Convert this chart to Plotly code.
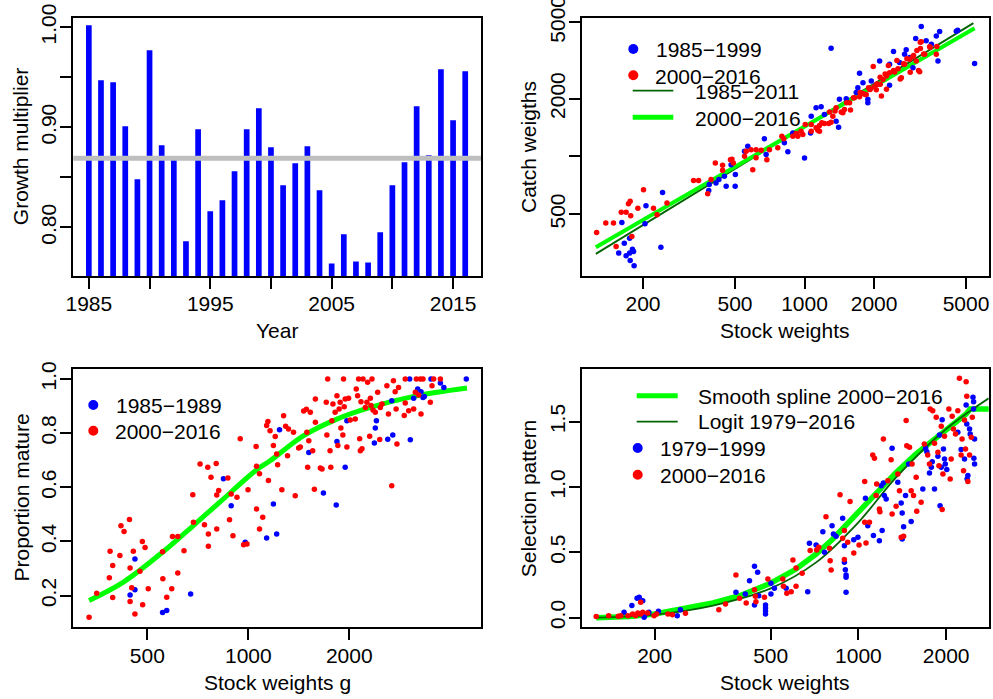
import plotly.graph_objects as go

W, H = 993, 699
FONT = "Liberation Sans, Arial, Helvetica, sans-serif"
FS = 21
BLUE, RED = "#0000ff", "#ff0000"
LIME, DKGREEN = "#00ff00", "#006400"

# ---------------- Panel 1: growth multiplier ----------------
years = list(range(1985, 2017))
growth = [1.002, 0.947, 0.945, 0.901, 0.848, 0.977, 0.882, 0.868, 0.786, 0.898,
          0.816, 0.827, 0.856, 0.898, 0.919, 0.880, 0.842, 0.864, 0.881, 0.837,
          0.764, 0.793, 0.766, 0.765, 0.795, 0.842, 0.865, 0.921, 0.872, 0.958,
          0.907, 0.956]
growth_mean = 0.869

# ---------------- Panel 2: catch vs stock weights ----------------
p2_blue = [(1303, 3672), (5445, 3050), (3200, 4766), (3027, 4122), (3361, 4009), (3540, 3853),
           (3718, 4254), (3843, 4487), (4537, 4502), (4600, 4560), (3780, 3148), (2427, 3525),
           (2710, 3414), (2754, 3598), (2113, 3148), (2333, 3027), (2578, 3090), (2849, 3283),
           (2946, 2904), (2333, 2350), (1730, 2718), (1701, 2285), (1790, 2424), (1945, 2477),
           (1674, 2153), (1879, 1985), (1879, 1906), (1515, 2000), (1416, 1985), (1122, 1794),
           (1180, 1815), (1069, 1623), (1219, 1656), (1370, 1527), (1404, 1422), (1062, 1327),
           (1000, 982), (890, 1327), (818, 1177), (847, 1057), (670, 1236), (682, 1024),
           (568, 1130), (550, 1065), (481, 906), (502, 804), (501, 698), (458, 698), (414, 727),
           (426, 757), (450, 787), (387, 713), (385, 665), (243, 649), (206, 553), (204, 445),
           (162, 452), (239, 336), (166, 352), (175, 374), (157, 313), (169, 303), (175, 313),
           (180, 328), (182, 319), (176, 286), (183, 269)]
p2_red = [(126, 401), (138, 449), (149, 449), (153, 339), (161, 511), (169, 511), (173, 567),
          (176, 583), (177, 490), (179, 382), (190, 537), (201, 670), (222, 536), (230, 496),
          (254, 571), (331, 748), (348, 748), (381, 638), (394, 757), (411, 925), (442, 899),
          (442, 847), (478, 962), (485, 966), (492, 925), (550, 1003), (559, 1065), (587, 1085),
          (617, 1085), (649, 1077), (597, 853), (617, 984), (687, 962), (705, 1085), (766, 1109),
          (798, 1276), (813, 1236), (890, 1276), (920, 1318), (935, 1276), (966, 1355),
          (983, 1301), (1069, 1355), (1069, 1469), (1122, 1411), (1142, 1370), (1161, 1452),
          (1219, 1486), (1273, 1486), (1303, 1510), (1326, 1623), (1283, 1703), (1370, 1794),
          (1465, 1690), (1489, 1757), (1566, 1906), (1645, 2023), (1730, 2051), (1790, 2132),
          (1849, 2107), (1914, 2240), (2000, 2311), (2074, 2378), (1983, 2944), (2187, 2523),
          (2263, 2628), (2333, 2736), (2455, 2760), (2537, 2872), (2624, 2575), (2710, 3027),
          (2849, 3212), (2946, 3319), (3044, 3148), (3149, 2767), (3172, 3658), (3200, 3961),
          (3310, 3414), (3478, 3739), (3718, 3414), (2045, 2230), (2151, 2064), (2263, 2240),
          (1581, 1745), (1442, 1703), (1161, 1355), (1828, 2104), (1923, 2237), (2054, 2385),
          (2124, 2587), (2233, 2694), (2307, 2980), (2427, 2804), (2510, 3165), (2595, 2537),
          (2682, 3041), (2773, 3230), (2867, 2749), (2963, 3360), (3063, 3568), (3168, 3944),
          (3116, 2804), (3276, 3427), (3497, 3715), (3738, 3742), (1356, 1725), (1521, 1906),
          (1629, 2023), (1741, 2153), (1893, 2285), (2126, 2378), (1007, 1469), (1188, 1497),
          (927, 1301)]
fit_1985_2011_x = [125, 5380]
fit_1985_2011_y = [310, 4962]
fit_2000_2016_x = [125, 5445]
fit_2000_2016_y = [336, 4670]

# ---------------- Panel 3: proportion mature ----------------
p3_blue = [(444, 0.202), (459, 0.335), (459, 0.222), (555, 0.138), (571, 0.145), (673, 0.206),
           (843, 0.632), (889, 0.532), (979, 0.397), (1134, 0.413), (1188, 0.538), (1215, 0.428),
           (1239, 0.813), (1515, 0.729), (1675, 0.579), (1829, 0.535), (1838, 0.769), (1945, 0.674),
           (1968, 0.846), (2377, 0.764), (2392, 0.819), (2410, 0.846), (2605, 0.778), (2697, 0.793),
           (2678, 0.920), (3028, 1.0), (3042, 0.776), (3113, 0.929), (3200, 0.963), (3274, 0.953),
           (3319, 0.932), (3350, 0.935), (3506, 1.0), (3740, 0.985), (3830, 0.969), (4468, 1.0)]
p3_red = [(335, 0.120), (353, 0.209), (385, 0.266), (387, 0.364), (394, 0.193), (394, 0.311),
          (414, 0.348), (417, 0.458), (426, 0.437), (442, 0.481), (444, 0.302), (444, 0.178),
          (449, 0.229), (454, 0.364), (459, 0.132), (475, 0.290), (483, 0.400), (484, 0.166),
          (492, 0.378), (503, 0.225), (555, 0.362), (556, 0.262), (571, 0.194), (591, 0.225),
          (594, 0.418), (616, 0.418), (616, 0.284), (643, 0.366), (683, 0.573), (686, 0.471),
          (718, 0.686), (740, 0.462), (757, 0.674), (760, 0.428), (760, 0.382), (774, 0.637),
          (802, 0.688), (805, 0.572), (805, 0.446), (816, 0.588), (869, 0.634), (879, 0.480),
          (889, 0.575), (900, 0.421), (925, 0.563), (946, 0.779), (968, 0.388), (991, 0.391),
          (998, 0.591), (1055, 0.751), (1058, 0.520), (1058, 0.678), (1080, 0.650), (1080, 0.446),
          (1104, 0.489), (1134, 0.828), (1144, 0.843), (1148, 0.625), (1161, 0.809), (1188, 0.754),
          (1203, 0.788), (1215, 0.723), (1223, 0.683), (1259, 0.591), (1274, 0.864), (1292, 0.826),
          (1309, 0.717), (1318, 0.815), (1364, 0.803), (1380, 0.569), (1413, 0.745), (1429, 0.749),
          (1462, 0.882), (1490, 0.888), (1495, 0.803), (1503, 0.674), (1515, 0.772), (1531, 0.877),
          (1556, 0.735), (1574, 0.593), (1585, 0.840), (1585, 0.926), (1640, 0.671), (1659, 0.668),
          (1708, 0.914), (1715, 0.793), (1725, 1.0), (1753, 0.735), (1762, 0.674), (1775, 0.846),
          (1788, 0.908), (1815, 0.877), (1838, 0.938), (1850, 0.754), (1866, 0.889), (1879, 0.914),
          (1888, 0.819), (1914, 0.793), (1923, 1.0), (1932, 0.898), (1945, 0.926), (1968, 0.749),
          (1991, 0.929), (2014, 0.849), (2084, 0.852), (2099, 0.963), (2118, 0.938), (2133, 1.0),
          (2148, 0.779), (2158, 0.735), (2168, 0.916), (2183, 0.742), (2198, 1.0), (2234, 0.895),
          (2258, 0.914), (2269, 0.988), (2301, 0.789), (2312, 0.929), (2322, 0.902), (2338, 1.0),
          (2354, 0.886), (2392, 0.877), (2431, 0.951), (2465, 0.777), (2476, 0.895), (2505, 0.908),
          (2590, 0.975), (2618, 0.871), (2678, 0.606), (2709, 0.994), (2741, 0.953), (2760, 0.889),
          (2775, 0.760), (2806, 0.969), (2918, 0.865), (2938, 1.0), (2938, 0.911), (3008, 0.883),
          (3113, 0.889), (3149, 0.951), (3171, 1.0), (3222, 0.941), (3259, 1.0), (3274, 0.871),
          (3319, 1.0), (3490, 0.914), (3531, 0.975), (3572, 1.0), (3740, 1.0)]
mat_curve_x = [335, 423, 557, 684, 822, 1052, 1161, 1462, 1838, 2312, 3113, 4490]
mat_curve_y = [0.182, 0.249, 0.362, 0.458, 0.545, 0.662, 0.698, 0.791, 0.852, 0.895, 0.936, 0.967]

# ---------------- Panel 4: selection pattern ----------------
p4_blue = [(157, 0.041), (167, 0.092), (174, 0.148), (177, 0.156), (182, 0.130), (184, 0.003),
           (185, 0.020), (191, 0.041), (206, 0.048), (239, 0.015), (245, 0.061), (380, 0.194),
           (409, 0.181), (423, 0.283), (440, 0.393), (440, 0.097), (451, 0.347), (455, 0.168),
           (480, 0.051), (480, 0.028), (480, 0.074), (480, 0.097), (501, 0.263), (501, 0.181),
           (515, 0.224), (565, 0.224), (670, 0.199), (679, 0.569), (716, 0.556), (755, 0.658),
           (765, 0.500), (812, 0.704), (821, 0.640), (838, 0.622), (883, 0.760), (895, 0.551),
           (895, 0.423), (902, 0.367), (907, 0.309), (907, 0.194), (907, 0.327), (964, 0.597),
           (996, 0.615), (1057, 0.913), (1077, 0.704), (1126, 0.628), (1180, 0.589), (1197, 1.010),
           (1206, 0.666), (1218, 1.031), (1227, 0.934), (1245, 0.908), (1305, 1.296), (1365, 1.036),
           (1402, 0.878), (1413, 0.801), (1413, 0.602), (1429, 0.696), (1451, 0.934), (1488, 1.176),
           (1517, 0.735), (1663, 0.985), (1700, 1.296), (1717, 1.270), (1753, 1.107), (1779, 1.151),
           (1792, 1.194), (1824, 0.985), (1874, 1.235), (1897, 1.398), (1906, 0.857), (1924, 1.151),
           (1938, 1.515), (1958, 1.291), (1974, 1.214), (1986, 1.176), (2010, 1.133), (2193, 1.418),
           (2251, 1.286), (2312, 1.214), (2342, 1.628), (2354, 1.482), (2360, 1.061), (2374, 1.087),
           (2406, 1.444), (2418, 1.406), (2472, 1.686), (2484, 1.653), (2490, 1.219), (2503, 1.176),
           (2503, 1.367), (2484, 1.597)]
p4_red = [(126, 0.008), (139, 0.015), (150, 0.010), (153, 0.015), (162, 0.015), (168, 0.028),
          (172, 0.015), (175, 0.036), (179, 0.117), (179, 0.028), (182, 0.041), (189, 0.036),
          (199, 0.015), (203, 0.028), (222, 0.028), (230, 0.023), (255, 0.033), (332, 0.061),
          (350, 0.105), (380, 0.327), (391, 0.148), (412, 0.112), (440, 0.214), (443, 0.163),
          (445, 0.122), (476, 0.156), (489, 0.296), (550, 0.296), (553, 0.240), (568, 0.186),
          (588, 0.199), (596, 0.441), (611, 0.240), (611, 0.380), (641, 0.339), (683, 0.513),
          (719, 0.518), (731, 0.538), (774, 0.773), (796, 0.531), (800, 0.436), (806, 0.365),
          (865, 0.941), (883, 0.607), (895, 0.666), (895, 0.444), (919, 0.577), (936, 0.888),
          (964, 0.495), (1005, 0.556), (1051, 0.730), (1051, 1.041), (1062, 0.571), (1091, 0.730),
          (1120, 1.245), (1135, 1.219), (1150, 0.934), (1155, 1.023), (1180, 0.832), (1185, 0.811),
          (1218, 1.367), (1262, 1.048), (1295, 1.209), (1305, 0.793), (1347, 0.852), (1365, 1.099),
          (1383, 0.972), (1402, 0.615), (1429, 0.622), (1458, 1.508), (1465, 1.316), (1497, 1.304),
          (1517, 0.972), (1528, 1.176), (1545, 0.934), (1578, 1.074), (1585, 0.814), (1641, 0.883),
          (1683, 1.329), (1729, 1.245), (1753, 1.176), (1763, 1.597), (1799, 1.584), (1824, 1.334),
          (1849, 1.533), (1874, 1.265), (1889, 1.163), (1924, 1.464), (1938, 0.827), (1950, 1.099),
          (1974, 1.388), (2043, 1.597), (2065, 1.061), (2081, 1.214), (2097, 1.541), (2119, 1.444),
          (2153, 1.406), (2193, 1.584), (2221, 1.832), (2251, 1.245), (2268, 1.367), (2294, 1.125),
          (2312, 1.513), (2330, 1.291), (2342, 1.806), (2354, 1.694), (2374, 1.041), (2406, 1.245),
          (2439, 1.380), (2459, 1.533)]
spline_x = [126, 164, 200, 249, 317, 391, 500, 611, 716, 817, 1000, 1180, 1347, 1578, 2000, 2342, 2418, 2900]
spline_y = [0.0, 0.008, 0.028, 0.066, 0.112, 0.168, 0.263, 0.372, 0.487, 0.602, 0.806, 0.985, 1.112,
            1.253, 1.431, 1.559, 1.597, 1.597]
logit_x = [126, 200, 317, 500, 716, 1000, 1347, 2000, 2800]
logit_y = [0.0, 0.023, 0.092, 0.224, 0.423, 0.730, 1.074, 1.444, 1.679]


def fx(p):
    return p / W


def fy(p):
    return 1 - p / H


def unzip(pairs):
    return [a for a, _ in pairs], [b for _, b in pairs]


fig = go.Figure()

# Panel 1 bars (type="h" style vertical lines)
bx, by = [], []
for yr, g in zip(years, growth):
    bx += [yr, yr, None]
    by += [0.0, g, None]
fig.add_trace(go.Scatter(x=bx, y=by, mode="lines", line=dict(color=BLUE, width=5.7),
                         xaxis="x", yaxis="y", hoverinfo="skip"))


def pts(pairs, color, xa, ya):
    x, y = unzip(pairs)
    return go.Scatter(x=x, y=y, mode="markers", marker=dict(color=color, size=5.5, line=dict(width=0)),
                      xaxis=xa, yaxis=ya, hoverinfo="skip")


def curve(x, y, color, width, xa, ya, shape="linear"):
    return go.Scatter(x=x, y=y, mode="lines", line=dict(color=color, width=width, shape=shape),
                      xaxis=xa, yaxis=ya, hoverinfo="skip")


# Panel 2
fig.add_trace(curve(fit_1985_2011_x, fit_1985_2011_y, DKGREEN, 1.8, "x2", "y2"))
fig.add_trace(curve(fit_2000_2016_x, fit_2000_2016_y, LIME, 4, "x2", "y2"))
fig.add_trace(pts(p2_blue, BLUE, "x2", "y2"))
fig.add_trace(pts(p2_red, RED, "x2", "y2"))

# Panel 3
fig.add_trace(curve(mat_curve_x, mat_curve_y, LIME, 5, "x3", "y3", "spline"))
fig.add_trace(pts(p3_blue, BLUE, "x3", "y3"))
fig.add_trace(pts(p3_red, RED, "x3", "y3"))

# Panel 4
fig.add_trace(curve(spline_x, spline_y, LIME, 5.5, "x4", "y4"))
fig.add_trace(curve(logit_x, logit_y, DKGREEN, 1.8, "x4", "y4", "spline"))
fig.add_trace(pts(p4_blue, BLUE, "x4", "y4"))
fig.add_trace(pts(p4_red, RED, "x4", "y4"))


def axis(domain, rng, typ, tickvals, ticktext, anchor, angle=0):
    return dict(domain=domain, range=rng, type=typ, tickvals=tickvals, ticktext=ticktext,
                anchor=anchor, showline=True, mirror=True, linecolor="black", linewidth=2,
                ticks="outside", ticklen=11, tickwidth=2, tickcolor="black", showgrid=False,
                zeroline=False, tickangle=angle, fixedrange=True, automargin=False,
                ticklabeloverflow="allow", ticklabelstandoff=(-4 if angle else -3),
                tickfont=dict(family=FONT, size=FS, color="black"))


LX = [fx(73.3), fx(481)]
RX = [fx(582), fx(988.7)]
TY = [fy(276), fy(17.5)]
BY = [fy(627.3), fy(369)]

layout = dict(
    width=W, height=H, margin=dict(l=0, r=0, t=0, b=0, autoexpand=False), showlegend=False,
    paper_bgcolor="white", plot_bgcolor="white",
    font=dict(family=FONT, size=FS, color="black"),
    xaxis=axis(LX, [1983.72, 2017.3], "linear", [1985, 1990, 1995, 2000, 2005, 2010, 2015],
               ["1985", "", "1995", "", "2005", "", "2015"], "y"),
    yaxis=axis(TY, [0.7514, 1.0097], "linear", [0.80, 0.85, 0.90, 0.95, 1.00],
               ["0.80", "", "0.90", "", "1.00"], "x", -90),
    xaxis2=axis(RX, [2.037, 3.797], "log", [200, 500, 1000, 2000, 5000],
                ["200", "500", "1000", "2000", "5000"], "y2"),
    yaxis2=axis(TY, [2.376, 3.725], "log", [500, 1000, 2000, 5000],
                ["500", "", "2000", "5000"], "x2", -90),
    xaxis3=axis(LX, [2.478, 3.694], "log", [500, 1000, 2000], ["500", "1000", "2000"], "y3"),
    yaxis3=axis(BY, [0.083, 1.037], "linear", [0.2, 0.4, 0.6, 0.8, 1.0],
                ["0.2", "0.4", "0.6", "0.8", "1.0"], "x3", -90),
    xaxis4=axis(RX, [2.0516, 3.447], "log", [200, 500, 1000, 2000],
                ["200", "500", "1000", "2000"], "y4"),
    yaxis4=axis(BY, [-0.074, 1.903], "linear", [0.0, 0.5, 1.0, 1.5],
                ["0.0", "0.5", "1.0", "1.5"], "x4", -90),
)

shapes = [dict(type="line", xref="x domain", yref="y", x0=0, x1=1, y0=growth_mean, y1=growth_mean,
               line=dict(color="#bebebe", width=5), layer="above")]


def dot(px, py, color, d=10):
    return dict(type="circle", xref="paper", yref="paper", xsizemode="pixel", ysizemode="pixel",
                xanchor=fx(px), yanchor=fy(py), x0=-d / 2, x1=d / 2, y0=-d / 2, y1=d / 2,
                fillcolor=color, line=dict(width=0))


def seg(x0, x1, py, color, width):
    return dict(type="line", xref="paper", yref="paper", x0=fx(x0), x1=fx(x1), y0=fy(py), y1=fy(py),
                line=dict(color=color, width=width))


shapes += [dot(633.3, 49, BLUE), dot(633.3, 75.3, RED),
           seg(632.7, 673.3, 90.7, DKGREEN, 1.8), seg(632.7, 673.3, 117.3, LIME, 5),
           dot(93.3, 405, BLUE), dot(93.3, 430.7, RED),
           seg(636.7, 677.7, 395.7, LIME, 5), seg(636.7, 677.7, 421.7, DKGREEN, 1.8),
           dot(637.7, 448, BLUE), dot(637.7, 474.7, RED)]

anns = []


def text(t, px, py, xanchor="left", angle=0):
    anns.append(dict(text=t, xref="paper", yref="paper", x=fx(px), y=fy(py), xanchor=xanchor,
                     yanchor="middle", showarrow=False, textangle=angle,
                     font=dict(family=FONT, size=FS, color="black")))


# legends
text("1985\u22121999", 654.3, 49.5)
text("2000\u22122016", 653.3, 76)
text("1985\u22122011", 692.7, 91.7)
text("2000\u22122016", 692.7, 118)
text("1985\u22121989", 114, 405)
text("2000\u22122016", 113.3, 431)
text("Smooth spline 2000\u22122016", 696, 396.7)
text("Logit 1979\u22122016", 696, 422)
text("1979\u22121999", 658.3, 448.5)
text("2000\u22122016", 657.7, 475)

# axis titles
text("Year", 277.2, 330, "center")
text("Growth multiplier", 20.5, 146.7, "center", -90)
text("Stock weights", 785, 330, "center")
text("Catch weigths", 528.3, 146.7, "center", -90)
text("Stock weights g", 277.2, 682.5, "center")
text("Proportion mature", 20.5, 498, "center", -90)
text("Stock weights", 785, 682.5, "center")
text("Selection pattern", 528.3, 498, "center", -90)

layout["shapes"] = shapes
layout["annotations"] = anns
fig.update_layout(**layout)
fig.write_html("out.html", config={"displayModeBar": False},
               post_script="document.body.style.margin='0';document.body.style.padding='0';"
                           "document.documentElement.style.overflow='hidden';")
